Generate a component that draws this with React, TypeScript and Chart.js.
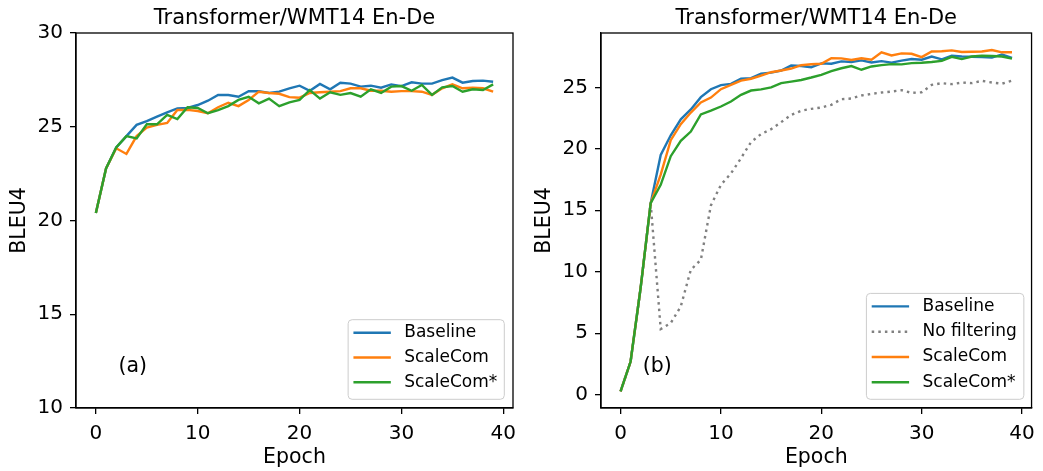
import React, { useEffect, useRef } from 'react';
import { Chart, registerables } from 'chart.js';

Chart.register(...registerables);

const epochs = [0, 1, 2, 3, 4, 5, 6, 7, 8, 9, 10, 11, 12, 13, 14, 15, 16, 17, 18, 19, 20, 21, 22, 23, 24, 25, 26, 27, 28, 29, 30, 31, 32, 33, 34, 35, 36, 37, 38, 39];

// Panel (a)
const aBaseline = [20.4, 22.78, 23.9, 24.5, 25.1, 25.3, 25.54, 25.77, 25.98, 26.0, 26.16, 26.39, 26.69, 26.69, 26.6, 26.89, 26.89, 26.8, 26.87, 27.05, 27.19, 26.92, 27.28, 27.0, 27.35, 27.3, 27.14, 27.19, 27.08, 27.26, 27.17, 27.37, 27.3, 27.3, 27.49, 27.62, 27.35, 27.44, 27.46, 27.4];
const aScaleCom = [20.4, 22.78, 23.85, 23.55, 24.5, 24.95, 25.1, 25.2, 25.89, 25.9, 25.84, 25.72, 26.04, 26.28, 26.1, 26.43, 26.87, 26.8, 26.76, 26.58, 26.55, 26.8, 26.84, 26.87, 26.9, 27.05, 27.05, 26.92, 26.92, 26.87, 26.9, 26.9, 26.87, 26.7, 27.05, 27.26, 27.05, 27.08, 27.05, 26.87];
const aScaleComStar = [20.4, 22.78, 23.9, 24.5, 24.38, 25.13, 25.13, 25.63, 25.41, 26.04, 26.0, 25.72, 25.89, 26.1, 26.43, 26.6, 26.25, 26.5, 26.1, 26.3, 26.43, 26.96, 26.5, 26.84, 26.7, 26.8, 26.6, 27.0, 26.8, 27.14, 27.17, 26.92, 27.23, 26.7, 27.1, 27.17, 26.87, 27.0, 26.96, 27.26];

// Panel (b)
const bBaseline = [0.27, 2.7, 8.7, 15.58, 19.5, 21.1, 22.4, 23.2, 24.2, 24.85, 25.18, 25.28, 25.7, 25.75, 26.12, 26.2, 26.37, 26.77, 26.74, 26.64, 26.95, 26.92, 27.11, 27.06, 27.19, 27.02, 27.13, 27.01, 27.17, 27.3, 27.25, 27.51, 27.28, 27.57, 27.51, 27.49, 27.47, 27.42, 27.68, 27.4];
const bNoFiltering = [0.27, 2.7, 8.7, 15.58, 5.34, 5.83, 7.18, 10.16, 10.98, 15.4, 17.07, 18.0, 19.24, 20.55, 21.2, 21.6, 22.17, 22.76, 23.1, 23.25, 23.36, 23.58, 24.04, 24.09, 24.34, 24.47, 24.58, 24.66, 24.77, 24.55, 24.6, 25.2, 25.34, 25.26, 25.39, 25.34, 25.53, 25.39, 25.3, 25.55];
const bScaleCom = [0.27, 2.7, 8.7, 15.58, 17.9, 20.7, 22.0, 22.95, 23.77, 24.17, 24.85, 25.2, 25.55, 25.7, 25.96, 26.23, 26.37, 26.53, 26.8, 26.88, 26.92, 27.37, 27.36, 27.23, 27.37, 27.25, 27.85, 27.59, 27.76, 27.73, 27.46, 27.92, 27.94, 28.01, 27.87, 27.9, 27.92, 28.03, 27.85, 27.85];
const bScaleComStar = [0.27, 2.7, 8.7, 15.58, 17.07, 19.4, 20.65, 21.4, 22.8, 23.1, 23.44, 23.85, 24.39, 24.74, 24.83, 25.0, 25.34, 25.47, 25.6, 25.8, 26.02, 26.32, 26.55, 26.73, 26.43, 26.7, 26.81, 26.89, 26.87, 26.97, 27.0, 27.06, 27.15, 27.48, 27.3, 27.51, 27.57, 27.55, 27.51, 27.33];

const xTicksStep = 10;
const yTicksStep = 5;
const titleText = 'Transformer/WMT14 En-De';
const xLabel = 'Epoch';
const yLabel = 'BLEU4';

const BLUE = '#1f77b4';
const ORANGE = '#ff7f0e';
const GREEN = '#2ca02c';
const GREY = '#808080';
const FONT = '"DejaVu Sans", sans-serif';
const DOTS = [2.5, 4.1];

const framePlugin = {
  id: 'frame',
  afterDatasetsDraw(chart: any) {
    const { ctx, chartArea } = chart;
    ctx.save();
    ctx.strokeStyle = '#000';
    ctx.lineWidth = 1.3;
    ctx.strokeRect(chartArea.left, chartArea.top, chartArea.right - chartArea.left, chartArea.bottom - chartArea.top);
    ctx.restore();
  },
};

const tagPlugin = {
  id: 'tag',
  afterDraw(chart: any, _a: any, opts: any) {
    const { ctx, chartArea } = chart;
    const w = chartArea.right - chartArea.left;
    const h = chartArea.bottom - chartArea.top;
    ctx.save();
    ctx.font = `20.5px ${FONT}`;
    ctx.fillStyle = '#000';
    ctx.textAlign = 'left';
    ctx.textBaseline = 'middle';
    ctx.fillText(opts.text, chartArea.left + opts.fx * w, chartArea.bottom - opts.fy * h);
    ctx.restore();
  },
};

const boxLegendPlugin = {
  id: 'boxLegend',
  afterDraw(chart: any, _a: any, opts: any) {
    const { ctx, chartArea } = chart;
    const items = chart.data.datasets;
    ctx.save();
    ctx.font = `17px ${FONT}`;
    const textW = Math.max(...items.map((d: any) => ctx.measureText(d.label).width));
    const padL = 5.3, lineLen = 37.4, gap = 13.4, padR = 7;
    const padTop = 13, rowGap = opts.rowGap, padBottom = 17;
    const w = padL + lineLen + gap + textW + padR;
    const h = padTop + rowGap * (items.length - 1) + padBottom;
    const x = chartArea.right - opts.offsetRight - w;
    const y = chartArea.bottom - opts.offsetBottom - h;
    ctx.beginPath();
    (ctx as any).roundRect(x, y, w, h, 4);
    ctx.fillStyle = 'rgba(255,255,255,0.8)';
    ctx.fill();
    ctx.strokeStyle = '#cccccc';
    ctx.lineWidth = 1;
    ctx.stroke();
    items.forEach((d: any, i: number) => {
      const cy = y + padTop + i * rowGap;
      ctx.beginPath();
      ctx.setLineDash(d.borderDash || []);
      ctx.strokeStyle = d.borderColor;
      ctx.lineWidth = d.borderWidth;
      ctx.moveTo(x + padL, cy);
      ctx.lineTo(x + padL + lineLen, cy);
      ctx.stroke();
      ctx.setLineDash([]);
      ctx.fillStyle = '#000';
      ctx.textAlign = 'left';
      ctx.textBaseline = 'middle';
      ctx.fillText(d.label, x + padL + lineLen + gap, cy);
    });
    ctx.restore();
  },
};

type Series = { label: string; values: number[]; color: string; dash?: number[]; order: number };

function makeConfig(p: { series: Series[]; yMin: number; yMax: number; padRight: number; tag: string; rowGap: number; offsetRight: number }) {
  const tickFont = { family: FONT, size: 20 };
  const labelFont = { family: FONT, size: 20.5 };
  return {
    type: 'line' as const,
    data: {
      datasets: p.series.map((s) => ({
        label: s.label,
        data: epochs.map((e, i) => ({ x: e, y: s.values[i] })),
        borderColor: s.color,
        backgroundColor: s.color,
        borderWidth: 2.4,
        borderDash: s.dash || [],
        pointRadius: 0,
        tension: 0,
        fill: false,
        order: s.order,
      })),
    },
    options: {
      responsive: false,
      animation: false as const,
      layout: { padding: { left: 0, right: p.padRight, top: 0, bottom: 0 }, autoPadding: false },
      scales: {
        x: {
          type: 'linear' as const,
          min: -1.95,
          max: 40.95,
          afterFit(s: any) { s.height = 63; },
          ticks: { stepSize: xTicksStep, includeBounds: false, font: tickFont, color: '#000', padding: 8, maxRotation: 0 },
          grid: { drawOnChartArea: false, drawTicks: true, tickLength: 6, color: '#000', lineWidth: 1.3 },
          border: { display: true, color: '#000', width: 1.3 },
          title: { display: true, text: xLabel, font: labelFont, color: '#000', padding: { top: 0, bottom: 1.5 } },
        },
        y: {
          type: 'linear' as const,
          min: p.yMin,
          max: p.yMax,
          afterFit(s: any) { s.width = 76; },
          ticks: { stepSize: yTicksStep, includeBounds: false, font: tickFont, color: '#000', padding: 7 },
          grid: { drawOnChartArea: false, drawTicks: true, tickLength: 6, color: '#000', lineWidth: 1.3 },
          border: { display: true, color: '#000', width: 1.3 },
          title: { display: true, text: yLabel, font: labelFont, color: '#000', padding: { top: 7.2, bottom: 0 } },
        },
      },
      plugins: {
        legend: { display: false },
        tooltip: { enabled: false },
        title: {
          display: true,
          text: titleText,
          fullSize: false,
          color: '#000',
          font: { family: FONT, size: 21, weight: 'normal' as const },
          padding: { top: 6, bottom: 1.8 },
        },
        tag: { text: p.tag, fx: 0.097, fy: 0.11 },
        boxLegend: { rowGap: p.rowGap, offsetRight: p.offsetRight, offsetBottom: 8.7 },
      },
    },
    plugins: [framePlugin, boxLegendPlugin, tagPlugin],
  };
}

function Panel({ config, left, width }: { config: any; left: number; width: number }) {
  const ref = useRef<HTMLCanvasElement>(null);
  useEffect(() => {
    const chart = new Chart(ref.current as HTMLCanvasElement, config);
    return () => chart.destroy();
  }, []);
  return (
    <canvas
      ref={ref}
      width={width}
      height={471}
      style={{ position: 'absolute', left, top: 0, width, height: 471 }}
    />
  );
}

export default function App() {
  const leftCfg = makeConfig({
    series: [
      { label: 'Baseline', values: aBaseline, color: BLUE, order: 4 },
      { label: 'ScaleCom', values: aScaleCom, color: ORANGE, order: 2 },
      { label: 'ScaleCom*', values: aScaleComStar, color: GREEN, order: 1 },
    ],
    yMin: 10,
    yMax: 30,
    padRight: 12,
    tag: '(a)',
    rowGap: 24.8,
    offsetRight: 8.7,
  });
  const rightCfg = makeConfig({
    series: [
      { label: 'Baseline', values: bBaseline, color: BLUE, order: 4 },
      { label: 'No filtering', values: bNoFiltering, color: GREY, dash: DOTS, order: 3 },
      { label: 'ScaleCom', values: bScaleCom, color: ORANGE, order: 2 },
      { label: 'ScaleCom*', values: bScaleComStar, color: GREEN, order: 1 },
    ],
    yMin: -1.08,
    yMax: 29.42,
    padRight: 6,
    tag: '(b)',
    rowGap: 25.3,
    offsetRight: 7.7,
  });
  return (
    <div style={{ position: 'absolute', left: 0, top: 0, width: 1043, height: 471, background: '#fff' }}>
      <Panel config={leftCfg} left={0} width={525} />
      <Panel config={rightCfg} left={525} width={518} />
    </div>
  );
}
